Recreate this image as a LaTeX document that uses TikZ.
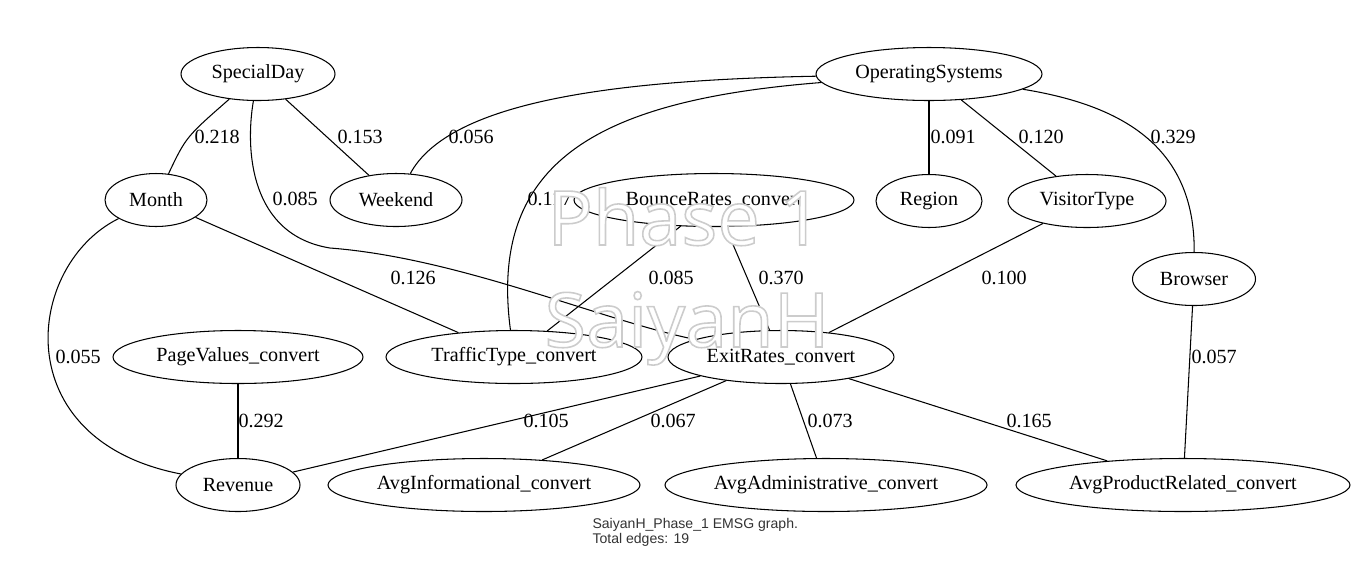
\documentclass[tikz,border=0pt]{standalone}
\usepackage{fontspec}
\setmainfont{Liberation Serif}
\newfontfamily\capfont{Liberation Sans}
\newfontfamily\wmfont{Open Sans}
\usetikzlibrary{shapes.geometric}
\newcommand\outlined[1]{\special{pdf:literal direct 2 Tr 0.9 w 0.8 G}#1\special{pdf:literal direct 0 Tr}}

\begin{document}
\begin{tikzpicture}[x=0.02cm,y=-0.02cm,line width=0.6pt,
        var/.style={draw,ellipse,inner sep=1pt,minimum height=1.06cm,minimum width=#1*0.02cm,font=\fontsize{11.45}{13}\selectfont},
        wt/.style={anchor=west,inner sep=0pt,font=\fontsize{11.45}{13}\selectfont},
        wm/.style={anchor=base,inner sep=0pt,text=white,font=\wmfont\fontsize{43}{48}\selectfont}]
        \useasboundingbox (0,0) rectangle (1359,576);
        \node[var=154] (SD) at (258,74) {SpecialDay};
        \node[var=226] (OS) at (929,74) {OperatingSystems};
        \node[var=102] (Mo) at (156,200) {Month};
        \node[var=132] (We) at (396,200) {Weekend};
        \node[var=280] (BR) at (714,200) {BounceRates\_convert};
        \node[var=106] (Re) at (929,201) {Region};
        \node[var=158] (VT) at (1087,201) {VisitorType};
        \node[var=123] (Br) at (1194,279) {Browser};
        \node[var=250] (PV) at (238,357) {PageValues\_convert};
        \node[var=256] (TT) at (514,357) {TrafficType\_convert};
        \node[var=226] (ER) at (781,357) {ExitRates\_convert};
        \node[var=124] (Rv) at (238,485) {Revenue};
        \node[var=312] (AI) at (484,485) {AvgInformational\_convert};
        \node[var=320] (AA) at (826,485) {AvgAdministrative\_convert};
        \node[var=334] (AP) at (1183,485) {AvgProductRelated\_convert};
        \draw (SD) .. controls (186,137) .. (Mo);
        \draw (SD) -- (We);
        \draw (SD) .. controls (245,150) and (250,235) .. (330,248) .. controls (460,258) and (600,320) .. (ER);
        \draw (OS) .. controls (620,80) and (450,100) .. (We);
        \draw (OS) .. controls (600,100) and (488,160) .. (TT);
        \draw (OS) -- (Re);
        \draw (OS) -- (VT);
        \draw (OS) .. controls (1120,105) and (1195,145) .. (Br);
        \draw (Mo) -- (TT);
        \draw (Mo) .. controls (25,265) and (5,440) .. (Rv);
        \draw (BR) -- (TT);
        \draw (BR) -- (ER);
        \draw (VT) -- (ER);
        \draw (Br) -- (AP);
        \draw (PV) -- (Rv);
        \draw (ER) -- (Rv);
        \draw (ER) -- (AI);
        \draw (ER) -- (AA);
        \draw (ER) -- (AP);
        \node[wt] (w1) at (194,137) {0.218};
        \node[wt] (w2) at (337,137) {0.153};
        \node[wt] (w3) at (448,137) {0.056};
        \node[wt] (w4) at (930,137) {0.091};
        \node[wt] (w5) at (1018,137) {0.120};
        \node[wt] (w6) at (1150,137) {0.329};
        \node[wt] (w7) at (272,199) {0.085};
        \node[wt] (w8) at (527,199) {0.117};
        \node[wt] (w9) at (390,278) {0.126};
        \node[wt] (w10) at (648,278) {0.085};
        \node[wt] (w11) at (758,278) {0.370};
        \node[wt] (w12) at (981,278) {0.100};
        \node[wt] (w13) at (55,357) {0.055};
        \node[wt] (w14) at (1191,357) {0.057};
        \node[wt] (w15) at (238,421) {0.292};
        \node[wt] (w16) at (523,421) {0.105};
        \node[wt] (w17) at (650,421) {0.067};
        \node[wt] (w18) at (807,421) {0.073};
        \node[wt] (w19) at (1006,421) {0.165};
        \node[anchor=north west,inner sep=0pt,align=left,text=black!80,
            font=\capfont\fontsize{8}{8.6}\selectfont] (cap) at (592,518) {SaiyanH\_Phase\_1 EMSG graph.\\Total edges: 19};
        \node[wm] (wm1) at (685,245) {\outlined{Phase 1}};
        \node[wm] (wm2) at (687,347) {\outlined{SaiyanH}};
    \end{tikzpicture}
\end{document}
